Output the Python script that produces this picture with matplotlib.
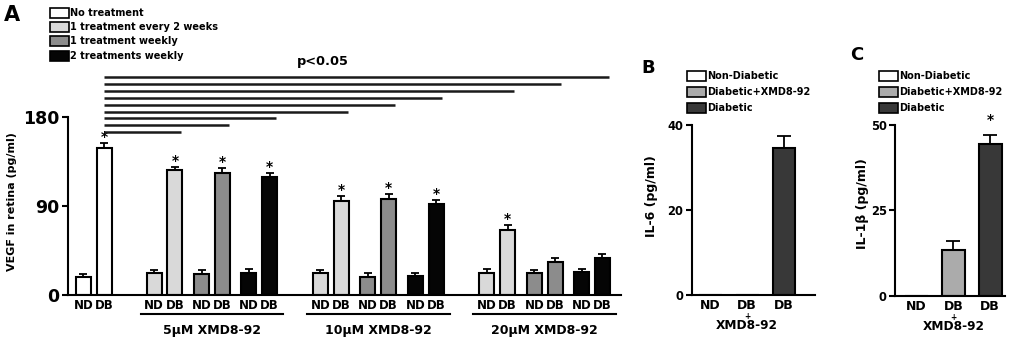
import numpy as np
import matplotlib
matplotlib.use('Agg')
import matplotlib.pyplot as plt
from matplotlib.patches import Rectangle

plt.rcParams['font.family'] = ['DejaVu Sans']
plt.rcParams['font.weight'] = 'bold'
plt.rcParams['axes.labelweight'] = 'bold'
plt.rcParams['axes.linewidth'] = 1.5

# ---- panel A data: VEGF in retina (pg/ml)
ctrl_vals = [18.5, 148]
ctrl_err = [2.7, 5]
doses = ['5μM XMD8-92', '10μM XMD8-92', '20μM XMD8-92']
legend_a = ['No treatment', '1 treatment every 2 weeks', '1 treatment weekly', '2 treatments weekly']
colors_a = ['white', '#d9d9d9', '#8c8c8c', '#050505']
# rows = dose, columns = schedule
nd_vals = [[21.8, 21.1, 21.8], [22, 18.5, 19], [22.4, 22.4, 23]]
nd_err = [[3.4, 4, 4], [3.4, 3.4, 2.7], [3.7, 2.7, 3]]
db_vals = [[126, 123, 119], [95, 96.5, 92], [66, 33.6, 37]]
db_err = [[3.4, 4.7, 4], [4.4, 5.4, 4], [4.4, 3.4, 4]]
db_star = [[1, 1, 1], [1, 1, 1], [1, 0, 0]]

# ---- panels B, C
legend_bc = ['Non-Diabetic', 'Diabetic+XMD8-92', 'Diabetic']
colors_bc = ['white', '#ababab', '#383838']
il6_vals = [0, 0, 34.5]
il6_err = [0, 0, 3]
il1b_vals = [0, 13.4, 44.4]
il1b_err = [0, 2.7, 2.7]
il1b_star = [0, 0, 1]

W, H = 1017, 340
fig = plt.figure(figsize=(W / 100, H / 100), dpi=100)


def px_axes(l, r, b, t):
    return fig.add_axes([l / W, 1 - b / H, (r - l) / W, (b - t) / H])


def legend_box(x, ys, labels, colors, fs):
    for y, lab, c in zip(ys, labels, colors):
        fig.patches.append(Rectangle((x / W, 1 - (y + 5) / H), 19 / W, 10 / H,
                                     transform=fig.transFigure, facecolor=c,
                                     edgecolor='black', lw=1.2))
        fig.text((x + 20) / W, 1 - y / H, lab, fontsize=fs, va='center', ha='left')


# ================= panel A
ax = px_axes(68, 621, 295, 57)
bw = 0.72
xs, vals, errs, cols, labs, stars = [], [], [], [], [], []
for i in range(2):
    xs.append(i)
    vals.append(ctrl_vals[i])
    errs.append(ctrl_err[i])
    cols.append(colors_a[0])
    labs.append(['ND', 'DB'][i])
    stars.append(i == 1)
group_spans = []
for d in range(3):
    start = 3.4 + 8.0 * d
    for s in range(3):
        x0 = start + 2.28 * s
        xs += [x0, x0 + 1]
        vals += [nd_vals[d][s], db_vals[d][s]]
        errs += [nd_err[d][s], db_err[d][s]]
        cols += [colors_a[s + 1]] * 2
        labs += ['ND', 'DB']
        stars += [False, bool(db_star[d][s])]
    group_spans.append((start, start + 2.28 * 2 + 1))

ax.bar(xs, vals, width=bw, color=cols, edgecolor='black', linewidth=1.5, zorder=2)
ax.errorbar(xs, vals, yerr=[np.zeros(len(errs)), errs], fmt='none', ecolor='black',
            elinewidth=1.3, capsize=3, capthick=1.3, zorder=3)
for x, v, e, s in zip(xs, vals, errs, stars):
    if s:
        ax.text(x, v + e + 6, '*', ha='center', va='center', fontsize=10)

ax.set_xlim(-0.74, 25.85)
ax.set_ylim(0, 240)
ax.set_xticks(xs, labs, fontsize=8.5)
ax.tick_params(axis='x', length=0, pad=3)
ax.set_yticks([0, 90, 180])
ax.set_yticklabels(['0', '90', '180'], fontsize=12.5)
ax.tick_params(axis='y', length=4, width=1.5, direction='out', pad=2)
ax.spines['left'].set_bounds(0, 180)
for sp in ['top', 'right']:
    ax.spines[sp].set_visible(False)
ax.set_ylabel('VEGF in retina (pg/ml)', fontsize=8)
ax.yaxis.set_label_coords(-0.092, 0.392)

# significance lines from control DB to each treated DB
db_x = [x for x, l in zip(xs, labs) if l == 'DB'][1:]
for k, xe in enumerate(db_x):
    y = 164 + 7.0 * k
    ax.plot([1, xe + 0.3], [y, y], color='#1a1a1a', lw=1.8, solid_capstyle='butt',
            clip_on=False, zorder=4)
ax.text(11.5, 235, 'p<0.05', ha='center', va='center', fontsize=9.3)

# dose group underlines and labels
tr = ax.get_xaxis_transform()
for (a, b), lab in zip(group_spans, doses):
    ax.plot([a - 0.65, b + 0.65], [-0.08, -0.08], color='black', lw=1.5,
            transform=tr, clip_on=False)
    ax.text((a + b) / 2, -0.148, lab, transform=tr, ha='center', va='center',
            fontsize=9)

fig.text(12 / W, 1 - 15 / H, 'A', fontsize=15, ha='center', va='center')
legend_box(50, [12.7, 27, 41.3, 56], legend_a, colors_a, 7)


# ================= panels B and C
def small_panel(l, r, b, t, vals, errs, ymax, ticks, ylabel, stars, ylab_xy):
    a = px_axes(l, r, b, t)
    pos = [0, 1, 2]
    a.bar(pos, vals, width=0.62, color=colors_bc, edgecolor='black', linewidth=1.5, zorder=2)
    ee = [e if v > 0 else 0 for v, e in zip(vals, errs)]
    for p, v, e in zip(pos, vals, ee):
        if v > 0:
            a.errorbar([p], [v], yerr=[[0], [e]], fmt='none', ecolor='black',
                       elinewidth=1.3, capsize=5, capthick=1.3, zorder=3)
    for p, v, e, s in zip(pos, vals, ee, stars):
        if s:
            a.text(p, v + e + ymax * 0.09, '*', ha='center', va='center', fontsize=10)
    a.set_ylim(0, ymax)
    a.set_yticks(ticks)
    a.set_yticklabels([str(t) for t in ticks], fontsize=8.3)
    a.tick_params(axis='y', length=4, width=1.5, pad=2)
    a.set_xticks(pos, ['ND', 'DB', 'DB'], fontsize=9)
    a.tick_params(axis='x', length=0, pad=3)
    for sp in ['top', 'right']:
        a.spines[sp].set_visible(False)
    a.set_ylabel(ylabel, fontsize=9)
    a.yaxis.set_label_coords(*ylab_xy)
    tr2 = a.get_xaxis_transform()
    a.text(1, -0.125, '+', transform=tr2, ha='center', va='center', fontsize=5.5)
    a.text(1, -0.18, 'XMD8-92', transform=tr2, ha='center', va='center', fontsize=8.7)
    return a


axb = small_panel(691.7, 815, 295, 125, il6_vals, il6_err, 40, [0, 20, 40],
                  'IL-6 (pg/ml)', [0, 0, 0], (-0.273, 0.58))
axb.set_xlim(-0.5, 2.84)
axc = small_panel(895, 1005, 295.7, 125, il1b_vals, il1b_err, 50, [0, 25, 50],
                  'IL-1β (pg/ml)', il1b_star, (-0.235, 0.537))
axc.set_xlim(-0.58, 2.4)

fig.text(648 / W, 1 - 68 / H, 'B', fontsize=13, ha='center', va='center')
fig.text(857 / W, 1 - 55 / H, 'C', fontsize=13, ha='center', va='center')
legend_box(687, [76, 91.7, 108.3], legend_bc, colors_bc, 7)
legend_box(879, [76, 91.7, 108.3], legend_bc, colors_bc, 7)

fig.savefig('out.png', dpi=100)
